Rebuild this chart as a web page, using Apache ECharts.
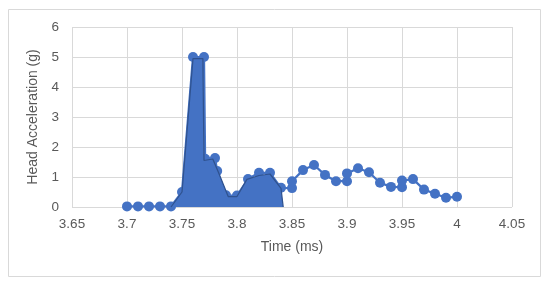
<!DOCTYPE html>
<html>
<head>
<meta charset="utf-8">
<script src="https://cdn.jsdelivr.net/npm/echarts@6/dist/echarts.min.js"></script>
<style>
	html, body { margin: 0; padding: 0; background: #fff; }
	#chart { width: 550px; height: 285px; }
</style>
</head>
<body>
<div id="chart"></div>
<script>
// measured points (time in ms, head acceleration in g)
var timeMs = [3.70, 3.71, 3.72, 3.73, 3.74, 3.75, 3.76, 3.77, 3.771, 3.78, 3.782, 3.79, 3.80, 3.81, 3.82, 3.83, 3.84, 3.85, 3.85,
	3.86, 3.87, 3.88, 3.89, 3.90, 3.90, 3.91, 3.92, 3.93, 3.94, 3.95, 3.95, 3.96, 3.97, 3.98, 3.99, 4.00];
var accelG = [0.02, 0.02, 0.02, 0.02, 0.02, 0.5, 5.0, 5.0, 1.61, 1.63, 1.2, 0.39, 0.38, 0.93, 1.14, 1.14, 0.64, 0.63, 0.86,
	1.23, 1.4, 1.07, 0.86, 0.86, 1.12, 1.29, 1.16, 0.81, 0.67, 0.66, 0.88, 0.93, 0.58, 0.44, 0.31, 0.34];

// shaded impulse region
var fillTime = [3.74, 3.75, 3.76, 3.769, 3.77, 3.778, 3.783, 3.792, 3.80, 3.809, 3.82, 3.83, 3.84, 3.842];
var fillAccel = [0, 0.5, 4.95, 4.95, 1.55, 1.6, 1.17, 0.35, 0.35, 0.92, 1.05, 1.1, 0.62, 0];

var xTicks = { min: 3.65, max: 4.05, step: 0.05 };
var yTicks = { min: 0, max: 6, step: 1 };

function pairs(xs, ys) {
	var out = [];
	for (var i = 0; i < xs.length; i++) {
		out.push([xs[i], ys[i]]);
	}
	return out;
}

var font = '"Liberation Sans", "Noto Sans", sans-serif';
var myChart = echarts.init(document.getElementById('chart'), null, { renderer: 'canvas' });
myChart.setOption({
	animation: false,
	grid: { left: 72, right: 38, top: 27, bottom: 78, containLabel: false },
	graphic: [{
		type: 'rect',
		shape: { x: 8.5, y: 9.5, width: 532, height: 267 },
		style: { fill: 'none', stroke: '#d9d9d9', lineWidth: 1 },
		silent: true
	}],
	xAxis: {
		type: 'value',
		min: xTicks.min,
		max: xTicks.max,
		interval: xTicks.step,
		name: 'Time (ms)',
		nameLocation: 'middle',
		nameGap: 33,
		nameTextStyle: { color: '#595959', fontSize: 14, fontFamily: font },
		axisLine: { show: false },
		axisTick: { show: false },
		axisLabel: {
			color: '#595959', fontSize: 13.5, fontFamily: font, margin: 10,
			formatter: function (v) { return String(parseFloat(v.toFixed(2))); }
		},
		splitLine: { show: true, lineStyle: { color: '#d9d9d9', width: 1 } }
	},
	yAxis: {
		type: 'value',
		min: yTicks.min,
		max: yTicks.max,
		interval: yTicks.step,
		name: 'Head Acceleration (g)',
		nameLocation: 'middle',
		nameGap: 26,
		nameTextStyle: { color: '#595959', fontSize: 14, fontFamily: font },
		axisLine: { show: false },
		axisTick: { show: false },
		axisLabel: { color: '#595959', fontSize: 13.5, fontFamily: font, margin: 13 },
		splitLine: { show: true, lineStyle: { color: '#d9d9d9', width: 1 } }
	},
	series: [{
		name: 'impulse',
		type: 'line',
		data: pairs(fillTime, fillAccel),
		showSymbol: false,
		symbol: 'none',
		lineStyle: { color: '#2f528f', width: 1.25 },
		areaStyle: { color: '#4472c4', opacity: 1, origin: 0 },
		z: 3
	}, {
		name: 'acceleration',
		type: 'line',
		data: pairs(timeMs, accelG),
		symbol: 'circle',
		symbolSize: 10,
		lineStyle: { color: '#4472c4', width: 2.25 },
		itemStyle: { color: '#4472c4' },
		z: 2
	}]
});
</script>
</body>
</html>
